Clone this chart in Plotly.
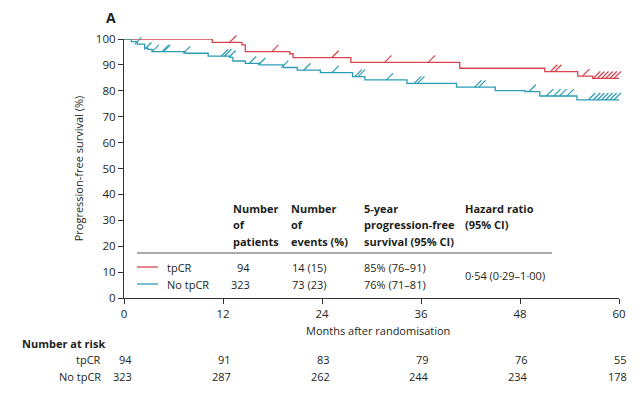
import numpy as np
import plotly.graph_objects as go

# ---- data ----
times_tp = [0, 10.7, 14.3, 14.7, 20.1, 20.5, 27.5, 40.7, 51.0, 55.0, 56.8, 60.3]
surv_tp = [100, 98.7, 97.7, 95.1, 94.3, 92.8, 91.0, 88.7, 87.4, 85.7, 84.8, 84.8]
cens_tp = [0.8, 1.2, 1.6, 2.8, 6.2, 13.2, 18.3, 25.6, 32.0, 37.3, 52.1, 52.6,
           56.0, 57.3, 57.8, 58.3, 58.8, 59.3, 59.8, 60.2]

times_no = [0, 0.9, 1.6, 2.5, 2.9, 3.4, 7.4, 10.2, 12.9, 13.2, 14.7, 16.5, 19.3,
            21.0, 23.8, 27.7, 29.2, 34.3, 40.3, 45.0, 48.6, 50.4, 54.9, 60.3]
surv_no = [100, 99.0, 98.0, 96.5, 96.0, 95.1, 94.5, 93.4, 92.9, 91.5, 90.6, 90.0,
           89.0, 88.0, 87.0, 85.5, 84.2, 82.9, 81.4, 80.1, 79.7, 78.0, 76.5, 76.5]
cens_no = [1.3, 1.7, 2.9, 3.8, 5.0, 5.2, 7.6, 12.2, 12.6, 13.1, 15.6, 16.7, 19.5,
           22.2, 25.6, 28.4, 28.8, 32.2, 35.6, 36.0, 42.9, 43.4, 49.5, 51.6, 52.5,
           53.2, 54.1, 56.7, 57.3, 57.8, 58.3, 58.8, 59.3, 59.8, 60.3]

x_ticks = [0, 12, 24, 36, 48, 60]
risk_tp = [94, 91, 83, 79, 76, 55]
risk_no = [323, 287, 262, 244, 234, 178]

groups = ["tpCR", "No tpCR"]
n_patients = ["94", "323"]
n_events = ["14 (15)", "73 (23)"]
pfs5 = ["85% (76–91)", "76% (71–81)"]
hazard = "0·54 (0·29–1·00)"

RED = "#d9444f"
BLUE = "#2a9db3"
TXT = "#231f20"
FONT = "Open Sans"
FS = 11

def step_at(t, times, surv):
    idx = np.searchsorted(np.array(times), np.array(t), side="right") - 1
    return np.array(surv)[idx]

fig = go.Figure()
for times, surv, cens, col in [(times_tp, surv_tp, cens_tp, RED),
                               (times_no, surv_no, cens_no, BLUE)]:
    fig.add_trace(go.Scatter(x=times, y=surv, mode="lines", line=dict(color=col, width=1.3, shape="hv"),
                             cliponaxis=False, showlegend=False, hoverinfo="skip"))
    fig.add_trace(go.Scatter(x=cens, y=step_at(cens, times, surv) + 1.3, mode="markers",
                             marker=dict(symbol="line-ne", size=7, line=dict(color=col, width=1.2)),
                             cliponaxis=False, showlegend=False, hoverinfo="skip"))

# page has an 8px body margin; work in window pixels and compensate
OFF = 8
FW, FH = 640 - OFF, 395 - OFF
L, R, T, B = 124, 619, 39, 298
W, H = R - L, B - T
def px(xp):
    return (xp - L) / W
def py(yp):
    return (B - yp) / H

ann = []
def txt(x, y, s, xa="left", bold=False, size=FS, xref="paper", yref="paper"):
    ann.append(dict(x=x, y=y, xref=xref, yref=yref, text=f"<b>{s}</b>" if bold else s,
                    showarrow=False, xanchor=xa, yanchor="middle",
                    font=dict(family=FONT, size=size, color=TXT)))

# panel label
txt(px(104), py(18), "A", bold=True, size=14)

# table header
header_cols = [(231, ["Number", "of", "patients"]),
               (289, ["Number", "of", "events (%)"]),
               (362, ["5-year", "progression-free", "survival (95% CI)"]),
               (463, ["Hazard ratio", "(95% CI)"])]
row_y = [208, 224, 241]
for xp, lines in header_cols:
    for s, yp in zip(lines, row_y):
        txt(px(xp), py(yp), s, bold=True)

# table rows
data_y = [267, 284]
for i, (g, col) in enumerate(zip(groups, [RED, BLUE])):
    yp = data_y[i]
    fig.add_shape(type="line", xref="paper", yref="paper", x0=px(137), x1=px(158),
                  y0=py(yp), y1=py(yp), line=dict(color=col, width=1.3))
    txt(px(165), py(yp), g)
    txt(px(252), py(yp), n_patients[i], xa="right")
    txt(px(290), py(yp), n_events[i])
    txt(px(362), py(yp), pfs5[i])
txt(px(463), py(275.5), hazard)
fig.add_shape(type="line", xref="paper", yref="paper", x0=px(137), x1=px(552),
              y0=py(253), y1=py(253), line=dict(color="#555555", width=1.2))

# x axis title
txt(px(378), py(330), "Months after randomisation", xa="center")

# number at risk
txt(px(20), py(343), "Number at risk", bold=True)
for i, (g, vals) in enumerate([("tpCR", risk_tp), ("No tpCR", risk_no)]):
    yp = [359, 376][i]
    txt(px(103), py(yp), g, xa="right")
    for xv, v in zip(x_ticks, vals):
        ann.append(dict(x=xv, y=py(yp), xref="x", yref="paper", text=str(v), showarrow=False,
                        xanchor="right", yanchor="middle", xshift=10,
                        font=dict(family=FONT, size=FS, color=TXT)))

fig.update_layout(
    width=FW, height=FH,
    margin=dict(l=L - OFF, r=640 - R, t=T - OFF, b=395 - B),
    paper_bgcolor="white", plot_bgcolor="white",
    font=dict(family=FONT, size=FS, color=TXT),
    annotations=ann,
    xaxis=dict(range=[0, 60], tickvals=x_ticks, ticks="outside", ticklen=5, tickwidth=1,
               tickcolor="#333", showline=True, linecolor="#333", linewidth=1.2,
               showgrid=False, zeroline=False, tickfont=dict(size=FS + 0.5)),
    yaxis=dict(range=[0, 100], tickvals=list(range(0, 101, 10)), ticks="outside", ticklen=5,
               tickwidth=1, tickcolor="#333", showline=True, linecolor="#333", linewidth=1.2,
               showgrid=False, zeroline=False, tickfont=dict(size=FS + 0.5),
               title=dict(text="Progression-free survival (%)", standoff=10,
                          font=dict(size=FS))),
)

fig.write_html("out.html")
